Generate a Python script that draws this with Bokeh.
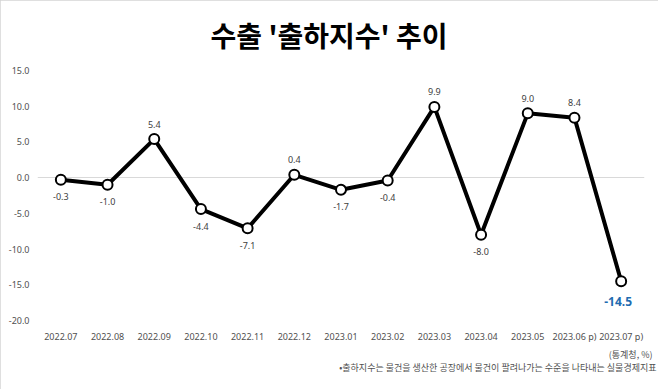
from bokeh.plotting import figure
from bokeh.models import FactorRange, Range1d, FixedTicker, NumeralTickFormatter, Title, ColumnDataSource
from bokeh.core.properties import value
from bokeh.embed import file_html
from bokeh.resources import INLINE

# ---- data ----
months = ["2022.07", "2022.08", "2022.09", "2022.10", "2022.11", "2022.12",
          "2023.01", "2023.02", "2023.03", "2023.04", "2023.05", "2023.06 p)", "2023.07 p)"]
values = [-0.3, -1.0, 5.4, -4.4, -7.1, 0.4, -1.7, -0.4, 9.9, -8.0, 9.0, 8.4, -14.5]
y_ticks = [-20, -15, -10, -5, 0, 5, 10, 15]
title_text = "수출 '출하지수' 추이"
source_text = "(통계청, %)"
note_text = "•출하지수는 물건을 생산한 공장에서 물건이 팔려나가는 수준을 나타내는 실물경제지표"

NUM_FONT = "Noto Sans"
KR_FONT = "Noto Sans CJK KR"

p = figure(width=658, height=389, output_backend="svg", toolbar_location=None,
           x_range=FactorRange(*months), y_range=Range1d(-20, 15),
           min_border_left=37, min_border_right=14, min_border_top=70, min_border_bottom=69,
           outline_line_color=None, background_fill_color="white", border_fill_color="white")
p.styles = {"outline": "1px solid #d4d4d4", "outline-offset": "-1px"}

# title
t = Title(text=title_text, align="left", offset=173, text_font=KR_FONT, text_font_size="28px",
          text_font_style="bold", text_color="black", vertical_align="top", standoff=28)
p.title = t

# axes
p.yaxis.ticker = FixedTicker(ticks=y_ticks)
p.yaxis.formatter = NumeralTickFormatter(format="0.0")
for ax in (p.xaxis[0], p.yaxis[0]):
    ax.axis_line_color = None
    ax.major_tick_line_color = None
    ax.minor_tick_line_color = None
    ax.major_tick_in = 0
    ax.major_tick_out = 0
    ax.minor_tick_in = 0
    ax.minor_tick_out = 0
    ax.major_label_text_font = NUM_FONT
    ax.major_label_text_font_size = "9px"
    ax.major_label_text_color = "#505050"
p.xaxis.major_label_standoff = 9
p.yaxis.major_label_standoff = 8

p.xgrid.grid_line_color = None
p.ygrid.ticker = FixedTicker(ticks=[0])
p.ygrid.grid_line_color = "#d9d9d9"
p.ygrid.grid_line_width = 1

# line and markers
src = ColumnDataSource(dict(x=months, y=values))
p.line("x", "y", source=src, line_color="black", line_width=4, line_join="round")
p.scatter("x", "y", source=src, size=10, fill_color="white", line_color="black", line_width=2)

# data labels
nx, ny, nt, noff = [], [], [], []
for m, v in zip(months[:-1], values[:-1]):
    nx.append(m); ny.append(v); nt.append(f"{v:.1f}")
    noff.append(-15 if v > 0 else 17)
lab = ColumnDataSource(dict(x=nx, y=ny, t=nt, off=noff))
p.text("x", "y", text="t", y_offset="off", source=lab, text_align="center",
       text_baseline="middle", text_font=value(NUM_FONT), text_font_size="9px",
       text_color="#404040")

last = ColumnDataSource(dict(x=[months[-1]], y=[values[-1]], t=[f"{values[-1]:.1f}"]))
p.text("x", "y", text="t", source=last, x_offset=-3, y_offset=20, text_align="center",
       text_baseline="middle", text_font=value(NUM_FONT), text_font_size="12px",
       text_font_style="bold", text_color="#1f6cb0")

# footnotes
p.add_layout(Title(text=source_text, align="right", offset=-8, text_font=KR_FONT,
                   text_font_size="9px", text_font_style="normal", text_color="#505050",
                   vertical_align="bottom", standoff=0), "below")
p.add_layout(Title(text=note_text, align="right", offset=-12, text_font=KR_FONT,
                   text_font_size="9px", text_font_style="normal", text_color="#505050",
                   vertical_align="top", standoff=0), "below")

open("out.html", "w").write(file_html(p, INLINE))
